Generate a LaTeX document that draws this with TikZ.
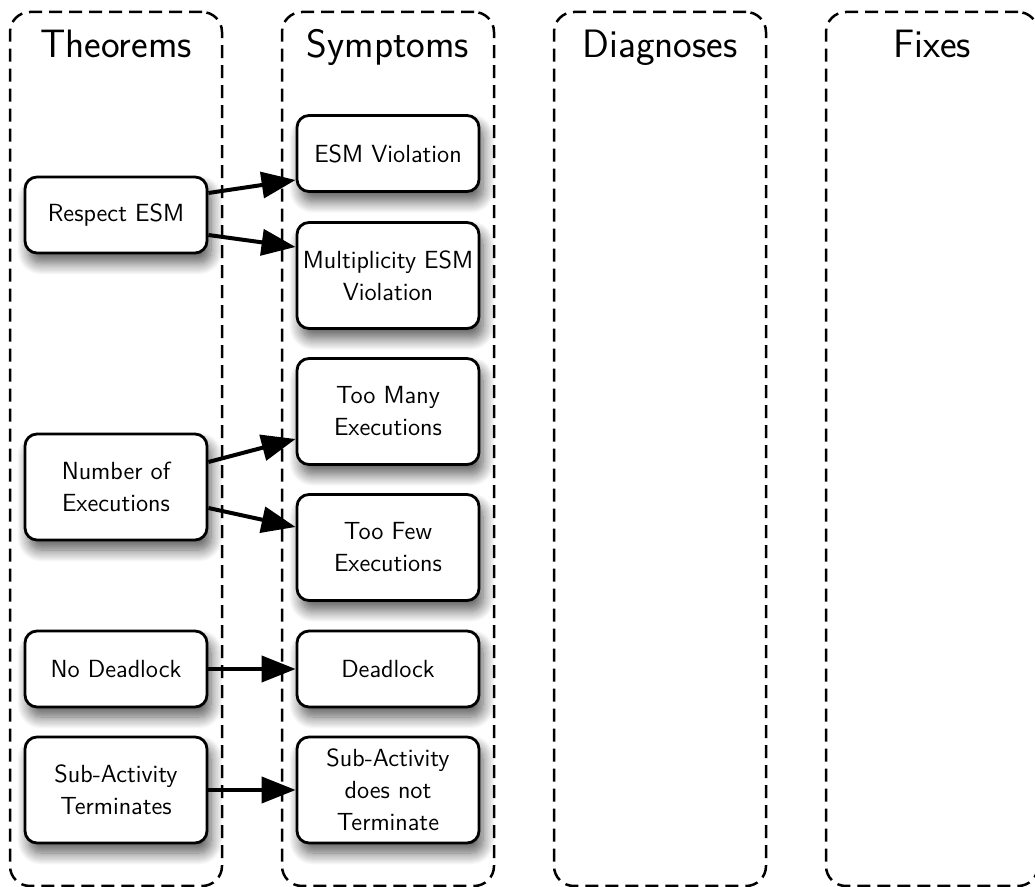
\documentclass[tikz,border=0pt]{standalone}
\usetikzlibrary{arrows.meta,shadows.blur,calc}
\begin{document}
\sffamily
\begin{tikzpicture}[x=0.5pt,y=-0.5pt,
  lane/.style={draw, line width=1.25pt, dash pattern=on 6.5pt off 3.5pt,
    rounded corners=10pt, minimum width=106pt, minimum height=437pt, inner sep=0pt},
  lanetitle/.style={anchor=base, font=\fontsize{19.8}{24}\selectfont},
  box/.style={draw, line width=1.4pt, rounded corners=6pt, fill=white,
    minimum width=91pt, minimum height=38pt, align=center, inner sep=0pt,
    font=\fontsize{12.4}{16}\selectfont,
    blur shadow={shadow xshift=2pt, shadow yshift=-5pt, shadow blur radius=6pt,
      shadow blur steps=12, shadow opacity=65}},
  tall/.style={minimum height=53pt},
  link/.style={line width=2pt, -{Triangle[length=17pt,width=13pt]}}
]
\useasboundingbox (0,0) rectangle (1035,887);
\clip (0,0) rectangle (1035,887);

% swim lanes
\node[lane] (theorems) at (116,449) {};
\node[lane] (symptoms) at (388,449) {};
\node[lane] (diagnoses) at (660,449) {};
\node[lane] (fixes) at (932,449) {};
\node[lanetitle] (ttheorems) at (116,58) {Theorems};
\node[lanetitle] (tsymptoms) at (388,58) {Symptoms};
\node[lanetitle] (tdiagnoses) at (660,58) {Diagnoses};
\node[lanetitle] (tfixes) at (932,58) {Fixes};

% theorems
\node[box] (respect) at (116,215) {Respect ESM};
\node[box, tall] (number) at (116,487) {Number of\\Executions};
\node[box] (nodead) at (116,669) {No Deadlock};
\node[box, tall] (subterm) at (116,790) {Sub-Activity\\Terminates};

% symptoms
\node[box] (esmv) at (388,153.5) {ESM Violation};
\node[box, tall] (multv) at (388,275.5) {Multiplicity ESM\\Violation};
\node[box, tall] (toomany) at (388,411.5) {Too Many\\Executions};
\node[box, tall] (toofew) at (388,547.5) {Too Few\\Executions};
\node[box] (deadlock) at (388,669) {Deadlock};
\node[box, tall] (subnot) at (388,790) {Sub-Activity\\does not\\Terminate};

% links from theorems to symptoms
\draw[link] ($(respect.east)+(0,-22)$) -- ($(esmv.west)+(0,26.5)$);
\draw[link] ($(respect.east)+(0,20)$) -- ($(multv.west)+(0,-28.5)$);
\draw[link] ($(number.east)+(0,-25)$) -- ($(toomany.west)+(0,27.5)$);
\draw[link] ($(number.east)+(0,21)$) -- ($(toofew.west)+(0,-20.5)$);
\draw[link] (nodead.east) -- (deadlock.west);
\draw[link] (subterm.east) -- (subnot.west);
\end{tikzpicture}
\end{document}
